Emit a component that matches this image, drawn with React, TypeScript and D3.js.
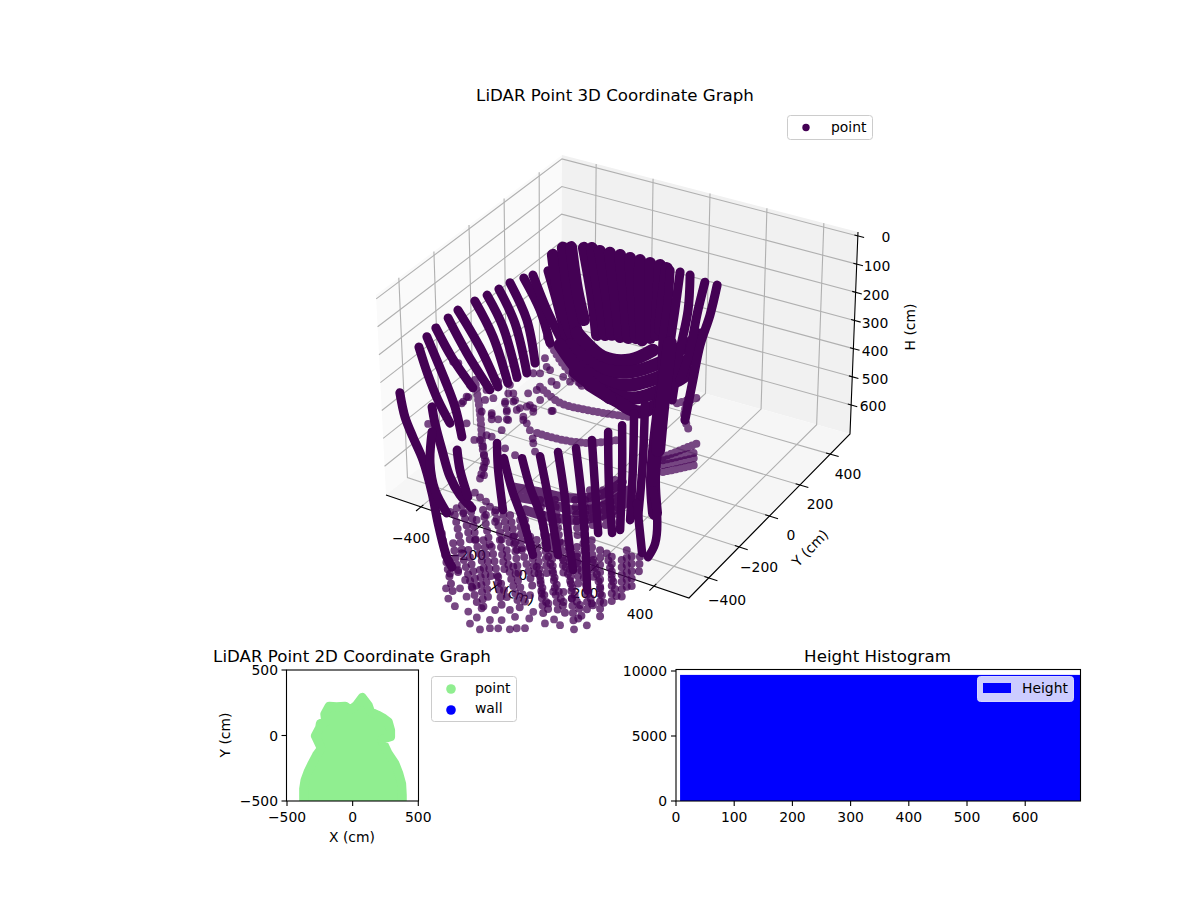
import React from "react";
import * as d3 from "d3";

type XH = [number, number];
type Scan = { y: number; xh: XH[] };

// ---------- 3D scatter: scan lines (x cm, y cm, height cm) ----------
const fanScans: Scan[] = [
  { y: -100, xh: [[199, 546], [329, 454]] },
  { y: -100, xh: [[199, 557], [319, 492]] },
  { y: -100, xh: [[199, 574], [312, 515]] },
  { y: -100, xh: [[199, 599], [312, 540]] },
];
const faintRings: Scan[] = [
  { y: -200, xh: [[-177, 358], [-107, 394], [-12, 391], [139, 370]] },
  { y: -200, xh: [[-187, 526], [-96, 523], [-1, 505], [93, 466]] },
  { y: -200, xh: [[-152, 173], [-107, 241], [-26, 313]] },
  { y: -500, xh: [[-239, 199], [-221, 311], [-211, 440], [-204, 473], [-221, 543]] },
  { y: 0, xh: [[239, 364], [218, 442], [235, 490]] },
  { y: 0, xh: [[193, 407], [263, 367]] },
];
const floorBands: Scan[] = [
  { y: -400, xh: [[-161, 608], [-66, 597], [39, 586], [145, 543], [222, 474]] },
  { y: -400, xh: [[-143, 638], [-48, 627], [57, 624], [162, 574], [243, 497]] },
  { y: -400, xh: [[-119, 677], [-31, 675], [74, 654], [180, 594], [257, 520]] },
];
const midColumns: Scan[] = [
  { y: -800, xh: [[-143, 497], [-118, 614]] },
  { y: -800, xh: [[-118, 454], [-90, 570]] },
  { y: -800, xh: [[-90, 445], [-69, 564]] },
  { y: -800, xh: [[-44, 449], [-20, 566]] },
  { y: -800, xh: [[-2, 444], [26, 552]] },
  { y: -800, xh: [[22, 422], [51, 545]] },
  { y: -800, xh: [[51, 439], [75, 555]] },
  { y: -800, xh: [[86, 445], [93, 550]] },
  { y: -800, xh: [[103, 440], [121, 542]] },
  { y: -800, xh: [[156, 353], [173, 491]] },
  { y: -800, xh: [[208, 337], [226, 492]] },
  { y: -800, xh: [[279, 316], [289, 456]] },
  { y: -800, xh: [[314, 305], [314, 465]] },
  { y: -800, xh: [[331, 265], [342, 404]] },
  { y: -600, xh: [[266, 387], [277, 525]] },
  { y: -600, xh: [[308, 338], [326, 511]] },
];
const lowColumns: Scan[] = [
  { y: -1000, xh: [[-78, 440], [-61, 541], [-38, 641]] },
  { y: -1000, xh: [[-8, 489], [15, 560], [45, 647]] },
  { y: -1000, xh: [[39, 428], [74, 537], [85, 628]] },
  { y: -1000, xh: [[97, 435], [115, 524], [132, 631]] },
  { y: -1000, xh: [[150, 431], [161, 510], [197, 624]] },
  { y: -1000, xh: [[203, 415], [226, 479], [243, 545]] },
  { y: -1000, xh: [[255, 363], [267, 490], [278, 617]] },
  { y: -1000, xh: [[308, 335], [313, 464], [331, 601]] },
  { y: -1000, xh: [[366, 329], [372, 435], [384, 609]] },
  { y: -1000, xh: [[419, 326], [431, 429], [431, 571]] },
  { y: -900, xh: [[422, 400], [422, 507], [422, 635]] },
  { y: -900, xh: [[463, 411], [463, 505], [463, 586]] },
  { y: -900, xh: [[498, 412], [498, 484], [498, 549]] },
  { y: -700, xh: [[422, 525], [422, 584], [422, 638]] },
  { y: -700, xh: [[451, 517], [446, 589]] },
  { y: -1000, xh: [[-38, 463], [-20, 565]] },
  { y: -1000, xh: [[15, 471], [45, 593]] },
  { y: -1000, xh: [[68, 420], [97, 553]] },
  { y: -1000, xh: [[126, 402], [144, 516]] },
  { y: -1000, xh: [[173, 376], [191, 501]] },
  { y: -1000, xh: [[232, 358], [249, 496]] },
  { y: -1000, xh: [[284, 342], [290, 471]] },
  { y: -1000, xh: [[343, 348], [349, 454]] },
  { y: -1000, xh: [[396, 345], [401, 485]] },
  { y: -1000, xh: [[448, 305], [454, 445]] },
  { y: -1000, xh: [[56, 530], [68, 657]] },
  { y: -1000, xh: [[120, 535], [155, 607]] },
  { y: -1000, xh: [[173, 483], [220, 611]] },
  { y: -1000, xh: [[255, 458], [296, 600]] },
  { y: -1000, xh: [[296, 410], [355, 594]] },
  { y: -1000, xh: [[349, 406], [413, 588]] },
  { y: -1000, xh: [[396, 380], [454, 540]] },
  { y: -1000, xh: [[454, 374], [495, 534]] },
  { y: -1000, xh: [[501, 336], [536, 480]] },
  { y: -1000, xh: [[571, 304], [571, 446]] },
];
const leftScans: Scan[] = [
  { y: -600, xh: [[-380, 73], [-348, 163], [-313, 242], [-271, 311]] },
  { y: -600, xh: [[-352, 28], [-289, 162], [-253, 249], [-229, 347]] },
  { y: -500, xh: [[-376, 55], [-319, 144], [-246, 229]] },
  { y: -500, xh: [[-333, 7], [-267, 112], [-186, 218]] },
  { y: -400, xh: [[-354, 36], [-277, 145], [-213, 267]] },
  { y: -300, xh: [[-350, 54], [-286, 162], [-234, 311]] },
  { y: -300, xh: [[-307, 20], [-251, 117], [-202, 280]] },
  { y: -200, xh: [[-321, 54], [-265, 158], [-223, 323]] },
  { y: -200, xh: [[-282, 20], [-223, 134], [-194, 279]] },
  { y: -100, xh: [[-289, 56], [-232, 153], [-197, 260]] },
  { y: -100, xh: [[-257, 36], [-208, 146], [-162, 228]] },
  { y: 0, xh: [[-260, 73], [-228, 178], [-193, 309]] },
  { y: -800, xh: [[-336, 120], [-318, 201], [-290, 264], [-255, 335], [-223, 442], [-202, 543], [-171, 655], [-153, 685]] },
  { y: -800, xh: [[-223, 136], [-213, 190], [-188, 279], [-160, 366], [-125, 420], [-83, 454]] },
  { y: -800, xh: [[-223, 225], [-230, 338], [-213, 429], [-171, 498]] },
  { y: -800, xh: [[-135, 263], [-125, 331], [-97, 418]] },
];
const wallMeridians: Scan[] = [
  { y: 100, xh: [[-298, 79], [-273, 232], [-231, 344]] },
  { y: 100, xh: [[-263, 43], [-238, 222], [-203, 371]] },
  { y: 100, xh: [[-234, 32], [-213, 178], [-189, 278]] },
  { y: 100, xh: [[-189, 21], [-157, 197], [-143, 317]] },
  { y: 100, xh: [[-161, 13], [-133, 190], [-115, 309]] },
  { y: 100, xh: [[-133, 15], [-105, 182], [-91, 301]] },
  { y: 100, xh: [[-98, 11], [-77, 173], [-62, 300]] },
  { y: 100, xh: [[-62, 8], [-45, 164], [-34, 295]] },
  { y: 100, xh: [[-27, 8], [-17, 155], [-6, 287]] },
  { y: 100, xh: [[8, 5], [8, 148], [15, 288]] },
  { y: 100, xh: [[43, 5], [43, 137], [43, 272]] },
  { y: 100, xh: [[78, 1], [71, 129], [64, 255]] },
  { y: 100, xh: [[102, 5], [88, 123], [78, 232]] },
];
const wallRings: Scan[] = [
  { y: 100, xh: [[-213, 331], [-122, 389], [-27, 371], [53, 312]] },
  { y: 100, xh: [[-238, 382], [-133, 432], [-27, 414], [85, 344]] },
  { y: 100, xh: [[-231, 433], [-133, 474], [-27, 460], [92, 389]] },
  { y: 100, xh: [[-220, 473], [-115, 512], [-10, 501], [95, 434]] },
  { y: 100, xh: [[-168, 503], [-80, 530], [8, 546], [78, 489]] },
  { y: 100, xh: [[-273, 392], [-203, 467], [-98, 527]] },
  { y: 200, xh: [[37, 368], [100, 342], [163, 276]] },
  { y: 200, xh: [[37, 428], [93, 404], [145, 353]] },
  { y: 200, xh: [[37, 492], [86, 460], [128, 418]] },
];
const rightScans: Scan[] = [
  { y: 200, xh: [[58, 77], [51, 186], [33, 333], [29, 512]] },
  { y: 200, xh: [[93, 73], [75, 213], [58, 344], [51, 506]] },
  { y: 200, xh: [[128, 73], [121, 200], [93, 351], [65, 537]] },
  { y: 200, xh: [[180, 83], [152, 208], [128, 340], [93, 458]] },
  { y: 200, xh: [[223, 80], [198, 194], [163, 312], [138, 444], [110, 595]] },
];
const trunkScans: Scan[] = [
  { y: -500, xh: [[421, 25], [400, 194], [386, 366], [393, 481]] },
  { y: -300, xh: [[335, -3], [310, 206], [293, 390]] },
];
const frontScans: Scan[] = [
  { y: -800, xh: [[5, 196], [8, 280], [26, 428]] },
  { y: -800, xh: [[29, 242], [58, 348], [96, 442], [131, 556]] },
  { y: -800, xh: [[93, 223], [121, 318], [163, 422], [180, 517]] },
  { y: -800, xh: [[156, 197], [180, 311], [201, 421], [219, 530]] },
  { y: -800, xh: [[219, 163], [244, 326], [254, 441], [272, 567]] },
  { y: -800, xh: [[282, 130], [303, 308], [314, 448], [321, 624]] },
  { y: -600, xh: [[227, 220], [238, 384], [249, 545]] },
  { y: -600, xh: [[284, 175], [287, 369], [298, 530]] },
  { y: -600, xh: [[333, 136], [333, 307], [326, 511]] },
  { y: -600, xh: [[375, 80], [371, 273], [361, 465]] },
  { y: -600, xh: [[413, 39], [406, 237], [389, 446]] },
  { y: -600, xh: [[442, 334], [456, 425], [449, 521], [424, 578]] },
  { y: -600, xh: [[385, 397], [403, 569]] },
];
const strayDotsMid: XH[] = [
  [-403, 405], [-268, 362], [-280, 288], [-262, 267], [-241, 413], [-221, 407], [-198, 383], [-180, 383],
  [-145, 349], [-210, 427], [-207, 457], [-200, 478], [-207, 501], [-221, 544], [-207, 528], [-180, 299],
  [-180, 321], [-157, 314], [-127, 305], [-133, 410], [-98, 424], [34, 226], [-28, 390], [-34, 362],
  [-133, 244], [-127, 272], [-122, 211], [-98, 228], [-81, 251], [-69, 278], [-46, 230], [-34, 237],
  [-57, 298], [-46, 319], [-36, 345], [-239, 600], [-221, 611], [-200, 620], [-186, 634], [-166, 640],
  [-200, 667], [-168, 682], [-303, 674], [-326, 695], [-233, 695], [-280, 686],
];
const strayDotsCentre: XH[] = [
  [-104, 183], [-98, 212], [-145, 249], [-121, 242], [-86, 220], [-81, 259], [-40, 230], [-16, 240],
  [-63, 266], [19, 235], [-203, 284], [-227, 315], [-309, 358], [-268, 316], [-285, 380], [-314, 395],
  [-215, 342], [-215, 371], [-163, 326], [-133, 305], [-121, 337], [-168, 375], [-203, 397], [-145, 386],
  [-81, 364], [-244, 386], [-238, 414], [-291, 442], [-326, 440], [-233, 442], [-180, 426], [-379, 403],
  [-396, 432], [-426, 293], [-408, 293], [-367, 358],
];
const strayDotsLow: XH[] = [
  [-63, 631], [-55, 665], [-32, 685], [-14, 616], [15, 690], [21, 731], [45, 702], [56, 741], [91, 697],
  [91, 726], [120, 718], [132, 685], [161, 709], [179, 659], [185, 698], [214, 689], [229, 650], [243, 622],
  [284, 651], [316, 627], [337, 641], [386, 641], [401, 598], [431, 613], [62, 664], [109, 656], [161, 640],
  [296, 576], [349, 555], [407, 548], [448, 530], [232, 566], [9, 639], [27, 598], [4, 581], [313, 529],
  [349, 519], [378, 534], [273, 548], [-20, 553], [-49, 574],
];
const strayPlaneMid = -500;
const strayPlaneCentre = -300;
const strayPlaneLow = -1000;

// ---------- 2D footprint outline (cm) ----------
const footprintX = [-373, -373, -363, -340, -309, -276, -238, -284, -251, -246, -205, -212, -179, -123, -57, -17, 29, 73, 118, 136, 190, 238, 271, 289, 289, 220, 271, 322, 352, 373, 378, 378, -373];
const footprintY = [-469, -406, -342, -278, -214, -151, -99, -3, 61, 92, 105, 163, 224, 219, 224, 194, 232, 291, 232, 181, 156, 130, 105, 41, -10, -31, -138, -214, -291, -367, -457, -530, -530];

// ---------- histogram ----------
const heightBinEdges = [7, 695];
const heightCounts = [9700];

// ---------- axis ticks ----------
const cubeTicksX = [-400, -200, 0, 200, 400];
const cubeTicksY = [-400, -200, 0, 200, 400];
const cubeTicksH = [0, 100, 200, 300, 400, 500, 600];
const planTicks = [-500, 0, 500];
const histTicksX = [0, 100, 200, 300, 400, 500, 600];
const histTicksY = [0, 5000, 10000];

const FONT = "DejaVu Sans, sans-serif";
const minus = (v: number) => String(v).replace("-", "\u2212");

type XY = [number, number];
// Box of the 3D axes: eight corners in the photograph
const cA: XY = [386, 495], cB: XY = [689, 598], cC: XY = [850, 434], cD: XY = [561, 353];
const tA: XY = [376, 295], tB: XY = [694, 392], tC: XY = [858, 232], tD: XY = [562, 155];

const uS = d3.scaleLinear().domain([-520, 520]).range([0, 1]);
const vS = d3.scaleLinear().domain([-530, 530]).range([0, 1]);
const wS = d3.scaleLinear().domain([-14, 703]).range([0, 1]);
const mix = (a: XY, b: XY, t: number): XY => [a[0] + (b[0] - a[0]) * t, a[1] + (b[1] - a[1]) * t];
const cube = (x: number, y: number, h: number): XY => {
  const u = uS(x), v = vS(y), w = wS(h);
  const floor = mix(mix(cA, cB, u), mix(cD, cC, u), v);
  const top = mix(mix(tA, tB, u), mix(tD, tC, u), v);
  return mix(top, floor, w);
};

// Scatter: central view of the same box
const pxFromX = d3.scaleLinear().domain([0, 1000]).range([0, 285]);
const pxFromY = d3.scaleLinear().domain([0, 1000]).range([0, 158]);
const pyFromX = d3.scaleLinear().domain([0, 1000]).range([0, 85]);
const pyFromY = d3.scaleLinear().domain([0, 1000]).range([0, -144]);
const pyFromH = d3.scaleLinear().domain([0, 1000]).range([272.4, 553.4]);
const view = (x: number, y: number, h: number): XY => [622 + pxFromX(x) + pxFromY(y), pyFromH(h) + pyFromX(x) + pyFromY(y)];

const scanPath = d3.line<XY>().x((d) => d[0]).y((d) => d[1]).curve(d3.curveCatmullRom);
const scanD = (s: Scan) => scanPath(s.xh.map(([x, h]) => view(x, s.y, h))) || "";

const COLOR = "#440154";
const GRID = "#b0b0b0";
const poly = (pts: XY[]) => pts.map((p) => p.join(",")).join(" ");

const Scans = ({ data, width, opacity = 1, dots = 0 }: { data: Scan[]; width: number; opacity?: number; dots?: number }) => (
  <g fill="none" stroke={COLOR} strokeWidth={width} strokeLinecap="round" strokeLinejoin="round" opacity={dots ? undefined : opacity}>
    {data.map((s, i) => (
      <path key={i} d={scanD(s)} strokeDasharray={dots ? `0 ${dots}` : undefined} strokeOpacity={dots ? opacity : undefined} />
    ))}
  </g>
);
const Dots = ({ data, y }: { data: XH[]; y: number }) => (
  <g fill={COLOR} fillOpacity={0.72}>
    {data.map(([x, h], i) => {
      const [cx, cy] = view(x, y, h);
      return <circle key={i} cx={cx} cy={cy} r={3.9} />;
    })}
  </g>
);

function Cube3D() {
  const xTickEnds = cubeTicksX.map((t) => [cube(t, -530 + 15, 703), cube(t, -530 - 30, 703)]);
  const yTickEnds = cubeTicksY.map((t) => [cube(520 - 15, t, 703), cube(520 + 30, t, 703)]);
  const hTickEnds = cubeTicksH.map((t) => [cube(520 - 12, 530, t), cube(520 + 22, 530, t)]);
  const xLab: XY[] = [[411, 538], [467, 555], [523, 575], [585, 593], [640, 614]];
  const yLab: XY[] = [[727, 600], [759, 567], [791, 535], [820, 504], [848, 474]];
  const hLab: XY[] = [[886, 237], [877, 266], [876, 295], [875, 323], [875, 351], [875, 379], [873, 406]];
  return (
    <g>
      <polygon points={poly([cA, tA, tD, cD])} fill="#fafafa" />
      <polygon points={poly([cD, tD, tC, cC])} fill="#f1f1f1" />
      <polygon points={poly([cA, cB, cC, cD])} fill="#f6f6f6" />
      <g stroke={GRID} strokeWidth={1.1} fill="none">
        {cubeTicksX.map((t) => (
          <polyline key={"gx" + t} points={poly([cube(t, -530, 703), cube(t, 530, 703), cube(t, 530, -14)])} />
        ))}
        {cubeTicksY.map((t) => (
          <polyline key={"gy" + t} points={poly([cube(520, t, 703), cube(-520, t, 703), cube(-520, t, -14)])} />
        ))}
        {cubeTicksH.map((t) => (
          <polyline key={"gh" + t} points={poly([cube(-520, -530, t), cube(-520, 530, t), cube(520, 530, t)])} />
        ))}
      </g>
      <g stroke="#000" strokeWidth={1.1} fill="none">
        <polyline points={poly([cA, cB, cC, tC])} />
        {[...xTickEnds, ...yTickEnds, ...hTickEnds].map((e, i) => (
          <line key={i} x1={e[0][0]} y1={e[0][1]} x2={e[1][0]} y2={e[1][1]} />
        ))}
      </g>
      <g fontFamily={FONT} fontSize={13.9} fill="#000" textAnchor="middle" dominantBaseline="central">
        {cubeTicksX.map((t, i) => <text key={"lx" + t} x={xLab[i][0]} y={xLab[i][1]}>{minus(t)}</text>)}
        {cubeTicksY.map((t, i) => <text key={"ly" + t} x={yLab[i][0]} y={yLab[i][1]}>{minus(t)}</text>)}
        {cubeTicksH.map((t, i) => <text key={"lh" + t} x={hLab[i][0]} y={hLab[i][1]}>{t}</text>)}
        <text transform="translate(512,593) rotate(19)">X (cm)</text>
        <text transform="translate(810,548) rotate(-46)">Y (cm)</text>
        <text transform="translate(910,327) rotate(-90)">H (cm)</text>
      </g>
      <g clipPath="url(#clip3d)">
        <Scans data={fanScans} width={8} opacity={0.72} dots={4.5} />
        <Scans data={faintRings} width={8} opacity={0.72} dots={5} />
        <Scans data={floorBands} width={9.5} opacity={0.82} />
        <Dots data={strayDotsMid} y={strayPlaneMid} />
        <Dots data={strayDotsCentre} y={strayPlaneCentre} />
        <Scans data={midColumns} width={8} opacity={0.75} dots={7} />
        <Scans data={lowColumns} width={8} opacity={0.75} dots={7.3} />
        <Dots data={strayDotsLow} y={strayPlaneLow} />
        <Scans data={leftScans} width={9} />
        <Scans data={wallMeridians} width={12} />
        <Scans data={wallRings} width={13} />
        <Scans data={rightScans} width={9} />
        <Scans data={trunkScans} width={14} />
        <Scans data={frontScans} width={8.5} />
      </g>
      <text x={615} y={95} fontFamily={FONT} fontSize={16.67} textAnchor="middle" dominantBaseline="central">LiDAR Point 3D Coordinate Graph</text>
      <rect x={787.5} y={115.5} width={85} height={24} rx={3} fill="#fff" stroke="#ccc" strokeWidth={1} />
      <circle cx={806} cy={127.5} r={3.7} fill={COLOR} />
      <text x={831} y={127} fontFamily={FONT} fontSize={13.9} dominantBaseline="central">point</text>
    </g>
  );
}

function Plan2D() {
  const x = d3.scaleLinear().domain([-500, 500]).range([287, 418.3]);
  const y = d3.scaleLinear().domain([-500, 500]).range([801, 670]);
  const outline: XY[] = footprintX.map((v, i) => [x(v), y(footprintY[i])]);
  const d = d3.line<XY>().curve(d3.curveLinearClosed)(outline) || "";
  return (
    <g fontFamily={FONT} fontSize={13.9} fill="#000">
      <g clipPath="url(#clip2d)">
        <path d={d} fill="#90ee90" stroke="#90ee90" strokeWidth={9} strokeLinejoin="round" />
      </g>
      <rect x={286.5} y={670} width={132} height={131} fill="none" stroke="#000" strokeWidth={1.1} />
      {planTicks.map((t) => (
        <g key={t}>
          <line x1={x(t)} x2={x(t)} y1={801} y2={806} stroke="#000" strokeWidth={1.1} />
          <text x={x(t)} y={817} textAnchor="middle" dominantBaseline="central">{minus(t)}</text>
          <line x1={281.5} x2={286.5} y1={y(t)} y2={y(t)} stroke="#000" strokeWidth={1.1} />
          <text x={278} y={y(t)} textAnchor="end" dominantBaseline="central">{minus(t)}</text>
        </g>
      ))}
      <text x={352} y={837} textAnchor="middle" dominantBaseline="central">X (cm)</text>
      <text transform="translate(225,735) rotate(-90)" textAnchor="middle" dominantBaseline="central">Y (cm)</text>
      <text x={352} y={656} fontSize={16.67} textAnchor="middle" dominantBaseline="central">LiDAR Point 2D Coordinate Graph</text>
      <rect x={431.5} y={676.5} width={85} height={45} rx={3} fill="#fff" stroke="#ccc" strokeWidth={1} />
      <circle cx={451} cy={689} r={4.8} fill="#90ee90" />
      <circle cx={451} cy={710} r={4.8} fill="#0000ff" />
      <text x={475} y={688} dominantBaseline="central">point</text>
      <text x={475} y={708} dominantBaseline="central">wall</text>
    </g>
  );
}

function Hist() {
  const x = d3.scaleLinear().domain([0, 695]).range([676, 1080.5]);
  const y = d3.scaleLinear().domain([0, 10000]).range([801, 671]);
  return (
    <g fontFamily={FONT} fontSize={13.9} fill="#000">
      {heightCounts.map((c, i) => (
        <rect key={i} x={x(heightBinEdges[i])} y={y(c)} width={x(heightBinEdges[i + 1]) - x(heightBinEdges[i])} height={y(0) - y(c)} fill="#0000ff" />
      ))}
      <rect x={676} y={669.5} width={404.5} height={131.5} fill="none" stroke="#000" strokeWidth={1.1} />
      {histTicksX.map((t) => (
        <g key={t}>
          <line x1={x(t)} x2={x(t)} y1={801} y2={806} stroke="#000" strokeWidth={1.1} />
          <text x={x(t)} y={817} textAnchor="middle" dominantBaseline="central">{t}</text>
        </g>
      ))}
      {histTicksY.map((t) => (
        <g key={t}>
          <line x1={671} x2={676} y1={y(t)} y2={y(t)} stroke="#000" strokeWidth={1.1} />
          <text x={667} y={y(t)} textAnchor="end" dominantBaseline="central">{t}</text>
        </g>
      ))}
      <text x={877.5} y={656} fontSize={16.67} textAnchor="middle" dominantBaseline="central">Height Histogram</text>
      <rect x={977.5} y={676.5} width={96} height={25} rx={3} fill="#ccccff" stroke="#d6d6ff" strokeWidth={1} />
      <rect x={983} y={683} width={28} height={10} fill="#0000ff" />
      <text x={1022} y={688} dominantBaseline="central">Height</text>
    </g>
  );
}

export default function App() {
  return (
    <svg width={1200} height={900} viewBox="0 0 1200 900" style={{ position: "fixed", left: 0, top: 0, background: "#fff" }}>
      <defs>
        <clipPath id="clip3d"><rect x={0} y={0} width={1200} height={636} /></clipPath>
        <clipPath id="clip2d"><rect x={286.5} y={670} width={132} height={131} /></clipPath>
      </defs>
      <Cube3D />
      <Plan2D />
      <Hist />
    </svg>
  );
}
